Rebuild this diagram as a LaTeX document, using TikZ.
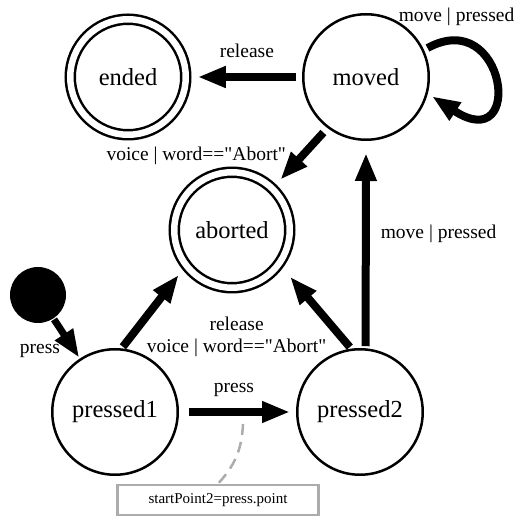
\documentclass[tikz,border=0pt]{standalone}
\usepackage{fontspec}
\setmainfont{Liberation Serif}[Ligatures=TeXOff]
\usetikzlibrary{arrows.meta,positioning}
\newcommand{\stfont}{\fontsize{24.5}{28}\selectfont}
\newcommand{\lbfont}{\fontsize{19.5}{22}\selectfont}
\newcommand{\ntfont}{\fontsize{15}{18}\selectfont}

\begin{document}
\begin{tikzpicture}[x=1pt,y=-1pt,>={Triangle[length=28pt,width=20pt]},
        state/.style={circle,draw,line width=2.5pt,minimum size=125.5pt,inner sep=0pt,font=\stfont},
        final/.style={state,double,double distance=6.5pt,minimum size=115.5pt,outer sep=6pt},
        trans/.style={->,line width=8pt,shorten <=6pt,shorten >=6pt},
        note/.style={draw=gray!65,line width=2.5pt,minimum width=201pt,minimum height=30pt,inner sep=0pt,font=\ntfont},
        notelink/.style={draw=gray!65,line width=2.5pt,dash pattern=on 11pt off 7pt}]
        \useasboundingbox (0,0) rectangle (525,518);
        \node[circle,fill=black,minimum size=56pt,inner sep=0pt] (init) at (38,295) {};
        \node[state] (pressed1) at (115,412) {pressed1};
        \node[state] (pressed2) at (360,412) {pressed2};
        \node[state] (moved) at (366,77) {moved};
        \node[final] (ended) at (128,77) {ended};
        \node[final] (aborted) at (232,230) {aborted};
        \node[note] (note) at (218,500) {startPoint2=press.point};
        \coordinate (presspt) at (243,424);
        \path[every node/.style={font=\lbfont,inner sep=2pt}]
        (init) edge[trans,line width=7pt,shorten <=1pt,shorten >=1pt] node[left=9pt,pos=.8] {press} (pressed1)
        (pressed1) edge[trans,shorten <=10pt] node[above=9pt,pos=.47] {press} (pressed2)
        (pressed1.84) edge[trans,shorten <=2pt] (aborted.219)
        (pressed2.98) edge[trans,shorten <=2pt,shorten >=11pt] node[left=12pt,pos=.1,yshift=4pt,align=center] {release\\voice | word=="Abort"} (aborted.-37)
        (pressed2.85) edge[trans,shorten <=2pt,shorten >=12pt] node[right=9pt,pos=.55] {move | pressed} (moved.270)
        (moved.233) edge[trans] node[left=10pt,pos=.5] {voice | word=="Abort"} (aborted.46)
        (moved) edge[trans] node[above=13pt] {release} (ended)
        ;
        \draw[trans,shorten <=4pt,shorten >=5pt] (moved.25) .. controls +(82,-45) and +(98,64) .. (moved.-15)
            node[pos=.15,above=10pt,font=\lbfont,inner sep=2pt] {move | pressed};
        \draw[notelink] (presspt) to[bend left=20] (note.north);
\end{tikzpicture}
\end{document}
